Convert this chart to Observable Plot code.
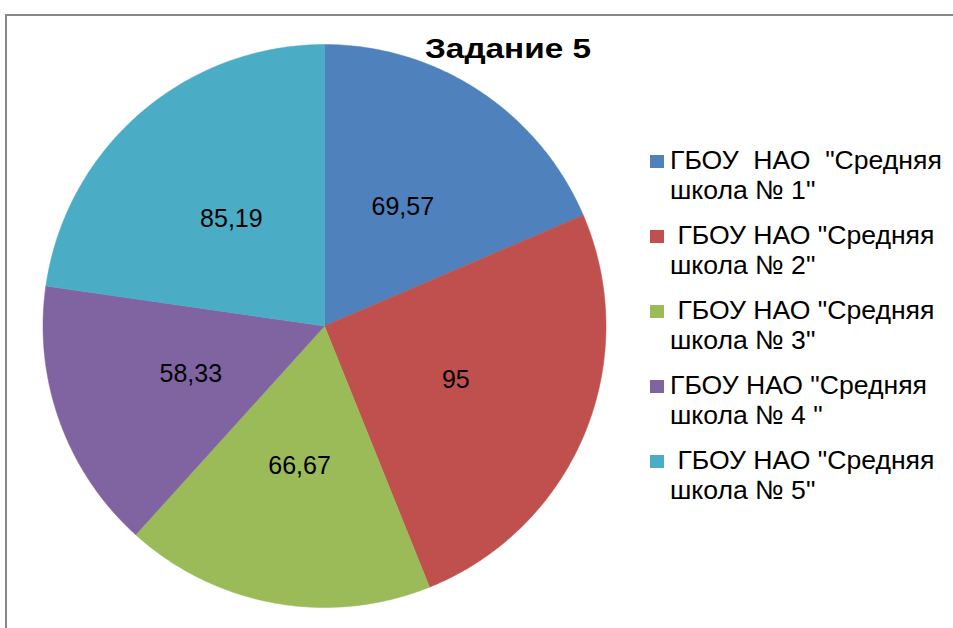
<!DOCTYPE html>
<html>
<head>
<meta charset="utf-8">
<script src="https://cdn.jsdelivr.net/npm/d3@7"></script>
<script src="https://cdn.jsdelivr.net/npm/@observablehq/plot@0.6"></script>
<style>
  html, body { margin: 0; padding: 0; background: #fff; }
  body { width: 953px; height: 628px; overflow: hidden; position: relative; font-family: Arial, "Liberation Sans", sans-serif; }
  #frame { position: absolute; left: 5px; top: 14px; width: 1000px; height: 700px; border-left: 2px solid #888; border-top: 2px solid #888; box-sizing: border-box; }
  #chart { position: absolute; left: 0; top: 0; }
  #title { position: absolute; left: 508px; top: 33px; transform: translateX(-50%) scaleX(1.19); white-space: pre; font-weight: bold; font-size: 28px; color: #000; }
  #legend { position: absolute; left: 650px; top: 145px; font-size: 26.6px; color: #000; }
  .item { position: relative; height: 75px; }
  .sw { position: absolute; left: 0; top: 10px; width: 14px; height: 13px; }
  .txt { position: absolute; left: 20px; top: 0; line-height: 30px; white-space: pre; }
</style>
</head>
<body>
<div id="frame"></div>
<div id="chart"></div>
<div id="title">Задание 5</div>
<div id="legend"></div>
<script>
const categories = [
  'ГБОУ  НАО  "Средняя\nшкола № 1"',
  ' ГБОУ НАО "Средняя\nшкола № 2"',
  ' ГБОУ НАО "Средняя\nшкола № 3"',
  'ГБОУ НАО "Средняя\nшкола № 4 "',
  ' ГБОУ НАО "Средняя\nшкола № 5"'
];
const values = [69.57, 95, 66.67, 58.33, 85.19];
const labels = ["69,57", "95", "66,67", "58,33", "85,19"];
const colors = ["#4F81BD", "#C0504D", "#9BBB59", "#8064A2", "#4BACC6"];

const keys = categories.map((c, i) => "s" + i);
const arcs = d3.pie().sort(null).value(d => d)(values);

// polygon points for each slice (angles clockwise from 12 o'clock)
const poly = [];
arcs.forEach((a, i) => {
  poly.push({k: keys[i], x: 0, y: 0});
  const n = Math.max(8, Math.ceil((a.endAngle - a.startAngle) / 0.01));
  for (let j = 0; j <= n; j++) {
    const t = a.startAngle + (a.endAngle - a.startAngle) * j / n;
    poly.push({k: keys[i], x: Math.sin(t), y: Math.cos(t)});
  }
  poly.push({k: keys[i], x: 0, y: 0});
});
const lab = arcs.map((a, i) => {
  const m = (a.startAngle + a.endAngle) / 2;
  return {k: keys[i], x: 0.505 * Math.sin(m), y: 0.505 * Math.cos(m), t: labels[i]};
});

const cx = 324, cy = 325.5, R = 281.5, W = 953, H = 628;
const plot = Plot.plot({
  width: W, height: H,
  marginLeft: cx - R, marginRight: W - (cx + R),
  marginTop: cy - R, marginBottom: H - (cy + R),
  x: {domain: [-1, 1], axis: null},
  y: {domain: [-1, 1], axis: null},
  color: {domain: keys, range: colors},
  style: {background: "transparent", fontFamily: "Arial, 'Liberation Sans', sans-serif"},
  marks: [
    Plot.line(poly, {x: "x", y: "y", z: "k", fill: "k", stroke: "k", strokeWidth: 0.5, curve: "linear"}),
    Plot.text(lab, {x: "x", y: "y", text: "t", fontSize: 25, fill: "#000"})
  ]
});
document.getElementById("chart").appendChild(plot);

const leg = document.getElementById("legend");
categories.forEach((c, i) => {
  const it = document.createElement("div"); it.className = "item";
  const sw = document.createElement("div"); sw.className = "sw"; sw.style.background = colors[i];
  const tx = document.createElement("div"); tx.className = "txt"; tx.textContent = c;
  it.appendChild(sw); it.appendChild(tx); leg.appendChild(it);
});
</script>
</body>
</html>
